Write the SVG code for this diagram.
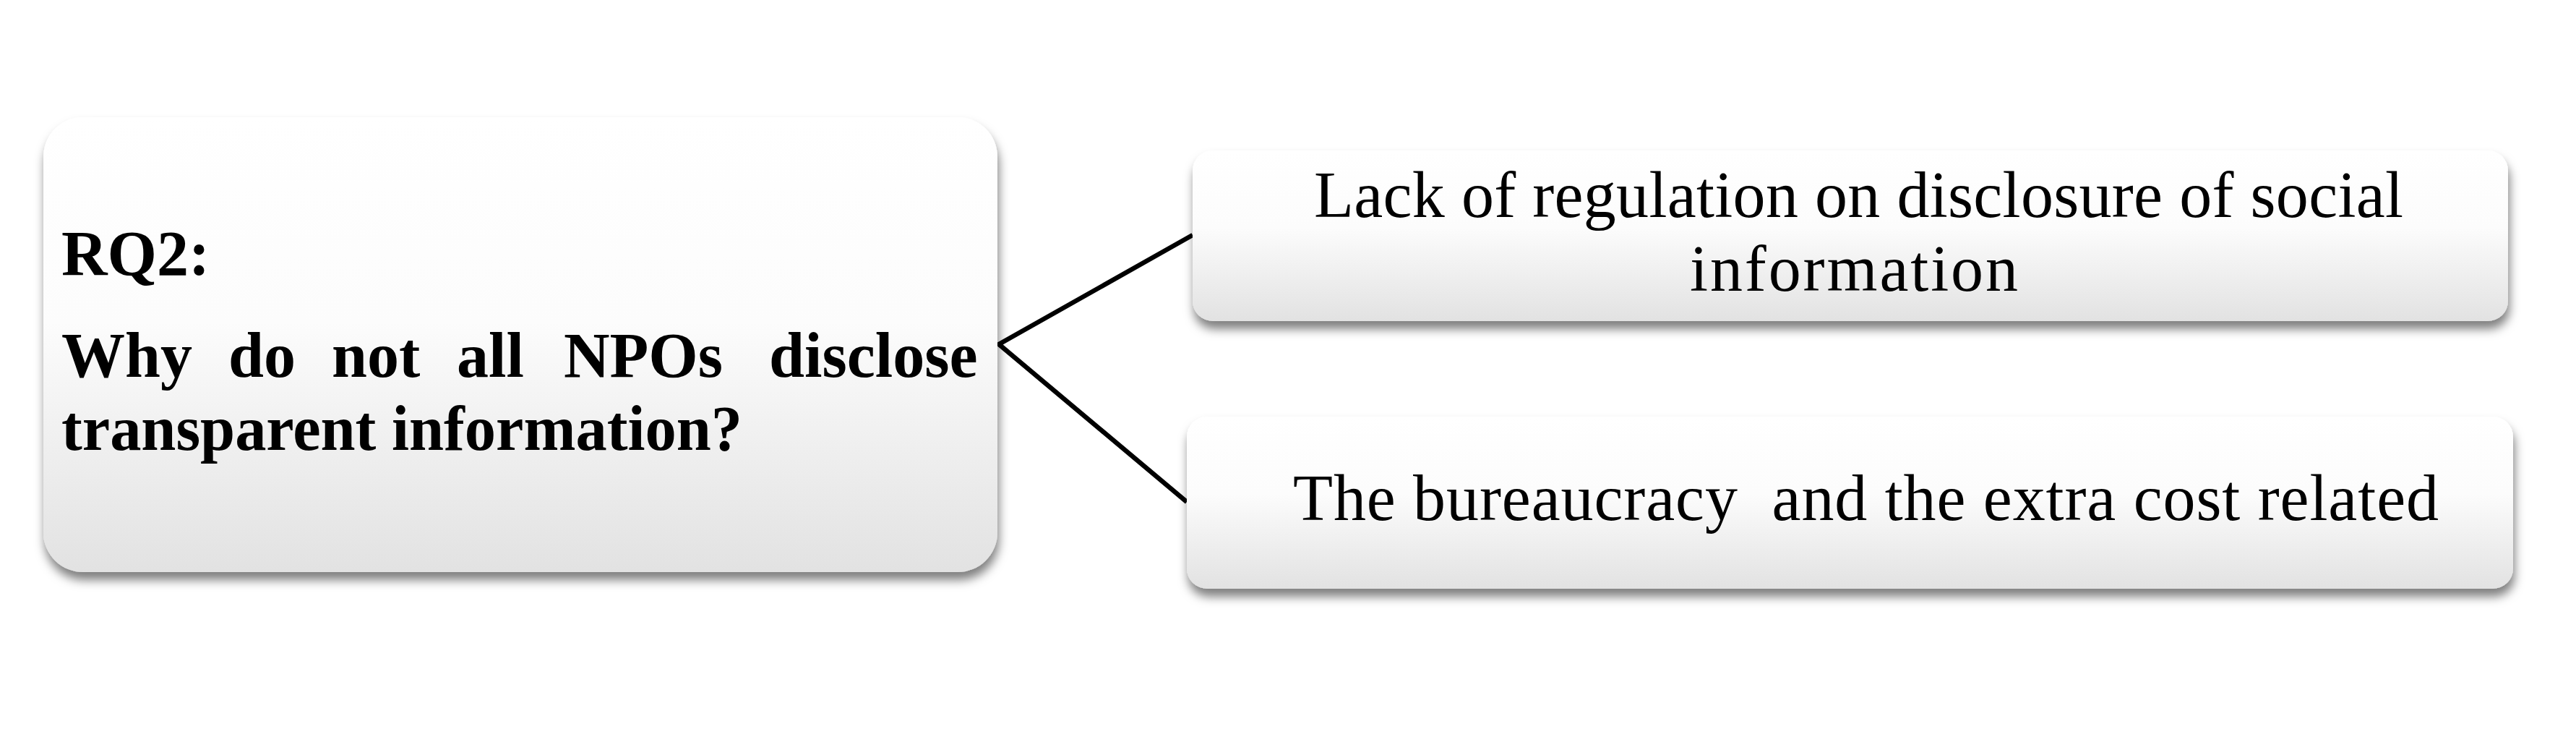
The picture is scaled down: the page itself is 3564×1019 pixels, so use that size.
<svg xmlns="http://www.w3.org/2000/svg" width="3564" height="1019" viewBox="0 0 3564 1019">
<defs>
<linearGradient id="g" x1="0" y1="0" x2="0" y2="1">
<stop offset="0" stop-color="#ffffff"/>
<stop offset="0.45" stop-color="#fcfcfc"/>
<stop offset="1" stop-color="#e2e2e2"/>
</linearGradient>
<filter id="sh" x="-5%" y="-10%" width="110%" height="130%">
<feDropShadow dx="2" dy="11" stdDeviation="7" flood-color="#000" flood-opacity="0.5"/>
</filter>
</defs>
<style>
.box{fill:url(#g);filter:url(#sh);}
.b{font-family:"Liberation Serif","Times New Roman",serif;font-weight:bold;font-size:88px;fill:#000;}
.r{font-family:"Liberation Serif","Times New Roman",serif;font-size:90px;fill:#000;}
.c{stroke:#000;stroke-width:6.5;fill:none;}
</style>
<rect width="3564" height="1019" fill="#fff"/>
<g id="connectors">
<polyline class="c" points="1650,325 1382,476 1642,694"/>
</g>
<g id="rq2">
<rect class="box" x="60" y="162" width="1320" height="629" rx="55" ry="55"/>
<text class="b" x="85" y="380">RQ2:</text>
<text class="b" y="521"><tspan x="85">Why</tspan><tspan x="316">do</tspan><tspan x="459">not</tspan><tspan x="632">all</tspan><tspan x="780">NPOs</tspan><tspan x="1064">disclose</tspan></text>
<text class="b" x="85" y="622" textLength="942" lengthAdjust="spacingAndGlyphs">transparent information?</text>
</g>
<g id="reason1">
<rect class="box" x="1650" y="208" width="1820" height="236" rx="28" ry="28"/>
<text class="r" x="1818" y="300" textLength="1507" lengthAdjust="spacing">Lack of regulation on disclosure of social</text>
<text class="r" x="2338" y="402" textLength="454" lengthAdjust="spacing">information</text>
</g>
<g id="reason2">
<rect class="box" x="1642" y="576" width="1835" height="238" rx="28" ry="28"/>
<text class="r" x="1789" y="719" textLength="1585" lengthAdjust="spacing" xml:space="preserve">The bureaucracy  and the extra cost related</text>
</g>
</svg>
